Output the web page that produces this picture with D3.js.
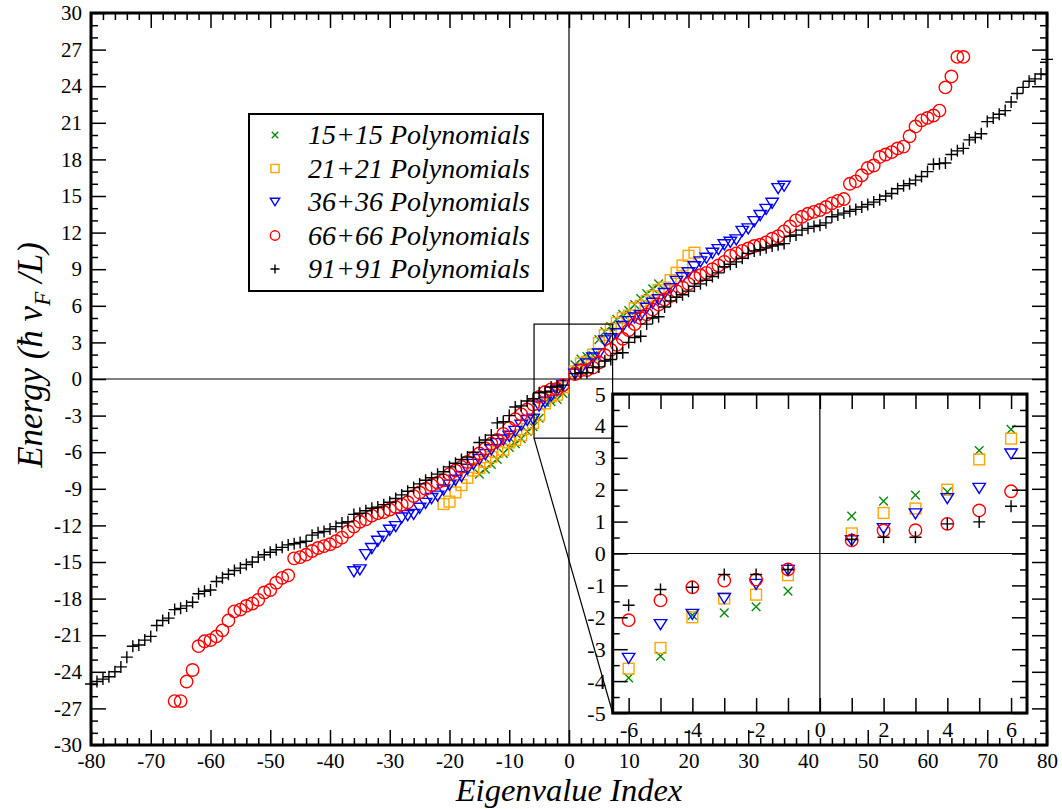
<!DOCTYPE html>
<html><head><meta charset="utf-8">
<script src="https://cdn.jsdelivr.net/npm/d3@7"></script>
<style>
body{margin:0;background:#fff}
svg{display:block}
text{font-family:"Liberation Serif","Times New Roman",serif;fill:#000}
</style>
</head><body>
<svg id="chart" width="1062" height="809"></svg>
<script>
// Energies for positive indices (n = 1, 2, ...) and negative indices (n = -1, -2, ...)
const e15Pos = [1.17,1.64,1.83,1.93,3.23,3.89,4.3,4.9,5.3,5.6,6.1,6.6,7.0,7.4,7.8];
const e15Neg = [-1.18,-1.67,-1.86,-1.93,-3.22,-3.9,-4.3,-4.9,-5.3,-5.6,-6.1,-6.6,-7.0,-7.4,-7.8];

const e21Pos = [0.63,1.27,1.41,2.0,2.95,3.6,4.1,4.6,5.0,5.2,5.8,6.0,6.4,6.8,7.3,7.5,8.1,8.7,9.3,10.1,10.35];
const e21Neg = [-0.68,-1.29,-1.41,-2.0,-2.96,-3.61,-4.1,-4.6,-5.0,-5.2,-5.8,-6.0,-6.4,-6.8,-7.3,-7.5,-8.1,-8.7,-9.3,-10.05,-10.25];

const e36Pos = [0.4,0.78,1.24,1.72,2.04,3.12,3.3,3.7,4.3,4.7,5.0,5.2,5.8,6.2,6.5,7.0,7.4,8.0,8.3,8.7,
  9.2,9.6,9.9,10.3,10.6,11.0,11.2,11.4,12.1,12.3,12.9,13.4,13.9,14.4,15.6,15.8];
const e36Neg = [-0.53,-0.97,-1.41,-1.91,-2.23,-3.29,-3.4,-3.8,-4.3,-4.7,-5.0,-5.3,-5.8,-6.2,-6.6,-7.0,-7.4,-8.0,-8.3,-8.7,
  -9.1,-9.6,-9.8,-10.2,-10.6,-11.1,-11.2,-11.4,-12.1,-12.4,-12.9,-13.3,-13.9,-14.4,-15.65,-15.8];

const e66Pos = [0.41,0.72,0.73,0.93,1.35,1.95,2.4,2.8,3.3,4.0,4.5,5.0,5.3,5.7,6.1,6.5,6.8,7.2,7.5,7.8,
  8.3,8.5,8.7,9.0,9.3,9.6,10.1,10.3,10.5,10.7,10.9,11.0,11.2,11.5,11.7,12.1,12.5,13.0,13.3,13.55,
  13.7,13.85,14.1,14.4,14.6,14.75,16.0,16.2,16.7,17.3,17.5,18.2,18.4,18.6,18.9,19.05,19.9,20.7,21.2,21.4,
  21.6,22.0,23.9,24.8,26.4,26.4];
const e66Neg = [-0.5,-0.82,-0.85,-1.06,-1.47,-2.09,-2.5,-2.9,-3.3,-4.0,-4.5,-5.0,-5.3,-5.7,-6.1,-6.5,-6.8,-7.2,-7.5,-7.8,
  -8.3,-8.5,-8.7,-9.0,-9.3,-9.6,-10.1,-10.3,-10.5,-10.7,-10.9,-11.0,-11.2,-11.5,-11.7,-12.1,-12.5,-13.0,-13.3,-13.55,
  -13.7,-13.85,-14.1,-14.4,-14.6,-14.7,-16.1,-16.3,-16.7,-17.3,-17.5,-18.1,-18.4,-18.6,-18.9,-19.05,-19.8,-20.6,-21.1,-21.4,
  -21.5,-21.9,-23.85,-24.8,-26.4,-26.4];

const e91Pos = [0.44,0.51,0.51,0.93,0.99,1.48,1.6,2.1,2.15,3.0,3.4,3.5,4.5,5.0,5.1,5.9,6.4,6.7,6.9,7.2,
  7.6,7.8,8.1,8.4,8.7,9.2,9.4,9.6,9.9,10.3,10.5,10.6,10.75,10.9,11.0,11.1,11.7,11.8,12.2,12.35,
  12.5,12.6,12.8,13.3,13.45,13.6,13.75,13.9,14.1,14.3,14.5,14.7,15.0,15.2,15.6,15.85,16.0,16.3,16.6,17.0,
  17.6,17.65,17.7,18.4,18.7,18.9,19.6,19.8,20.1,21.1,21.4,21.7,22.0,22.7,23.4,23.9,24.4,24.6,25.0,26.2];
const e91Neg = [-0.5,-0.66,-0.66,-1.06,-1.13,-1.62,-1.8,-2.2,-2.3,-3.0,-3.5,-3.6,-4.6,-5.0,-5.2,-6.0,-6.4,-6.6,-6.9,-7.2,
  -7.6,-7.8,-8.1,-8.3,-8.6,-8.9,-9.2,-9.5,-9.8,-10.1,-10.3,-10.5,-10.6,-10.8,-11.0,-11.1,-11.7,-11.8,-12.1,-12.3,
  -12.5,-12.6,-12.8,-13.3,-13.4,-13.5,-13.6,-13.8,-14.0,-14.2,-14.4,-14.6,-15.0,-15.2,-15.5,-15.7,-16.0,-16.3,-16.6,-17.3,
  -17.4,-17.6,-18.3,-18.6,-18.8,-18.9,-19.6,-19.8,-20.2,-21.1,-21.4,-21.8,-21.9,-22.8,-23.6,-24.0,-24.4,-24.6,-24.8,-25.0];

const seriesNames = ["15+15 Polynomials","21+21 Polynomials","36+36 Polynomials","66+66 Polynomials","91+91 Polynomials"];
const seriesShapes = ["x","square","triangle","circle","plus"];
const seriesColors = ["#0b8a0b","#ffa500","#0000ff","#ff0000","#000000"];
const seriesPos = [e15Pos,e21Pos,e36Pos,e66Pos,e91Pos];
const seriesNeg = [e15Neg,e21Neg,e36Neg,e66Neg,e91Neg];

// Main axis ticks
const xMajor = d3.range(-80, 81, 10);
const xMinor = d3.range(-80, 81, 2).filter(v => v % 10 !== 0);
const yMajor = d3.range(-30, 31, 3);
const yMinor = d3.range(-30, 31, 1).filter(v => v % 3 !== 0);
// Inset ticks
const ixTicks = d3.range(-6, 7, 1);
const ixLabels = [-6,-4,-2,0,2,4,6];
const iyMajor = d3.range(-5, 6, 1);
const iyMinor = d3.range(-4.5, 5, 1);

const series = seriesNames.map((name, i) => ({
  name, shape: seriesShapes[i], color: seriesColors[i],
  points: seriesNeg[i].map((e, k) => ({n: -(k + 1), e}))
    .concat(seriesPos[i].map((e, k) => ({n: k + 1, e})))
}));

const svg = d3.select("#chart");
const SERIF = "'Liberation Serif', 'Times New Roman', serif";

function drawSymbol(g, shape, color, cx, cy, s) {
  const sw = 1.4;
  if (shape === "circle") {
    g.append("circle").attr("cx", cx).attr("cy", cy).attr("r", s * 0.52)
      .attr("fill", "none").attr("stroke", color).attr("stroke-width", sw);
  } else if (shape === "square") {
    const h = s * 0.45;
    g.append("rect").attr("x", cx - h).attr("y", cy - h).attr("width", 2 * h).attr("height", 2 * h)
      .attr("fill", "none").attr("stroke", color).attr("stroke-width", sw);
  } else if (shape === "triangle") {
    const w = s * 0.52, h = s * 0.42;
    g.append("path").attr("d", `M${cx - w},${cy - h}L${cx + w},${cy - h}L${cx},${cy + h}Z`)
      .attr("fill", "none").attr("stroke", color).attr("stroke-width", sw);
  } else if (shape === "x") {
    const h = s * 0.36;
    g.append("path").attr("d", `M${cx - h},${cy - h}L${cx + h},${cy + h}M${cx - h},${cy + h}L${cx + h},${cy - h}`)
      .attr("fill", "none").attr("stroke", color).attr("stroke-width", sw);
  } else if (shape === "plus") {
    const h = s * 0.5;
    g.append("path").attr("d", `M${cx - h},${cy}L${cx + h},${cy}M${cx},${cy - h}L${cx},${cy + h}`)
      .attr("fill", "none").attr("stroke", color).attr("stroke-width", sw);
  }
}

function styleAxis(g, size) {
  g.select(".domain").remove();
  g.attr("font-family", SERIF).attr("font-size", size);
  g.selectAll(".tick line").attr("stroke", "#000").attr("stroke-width", 1.5);
  g.selectAll("text").attr("font-size", size).attr("font-family", SERIF).attr("fill", "#000");
}

function drawFrameAxes(root, x, y, opt) {
  const [x0, x1] = x.range(), [y0, y1] = y.range();
  const fmt = d => String(d);
  const b = root.append("g").attr("transform", `translate(0,${y0})`)
    .call(d3.axisBottom(x).tickValues(opt.xMajor).tickSize(-opt.major).tickPadding(opt.xPad)
      .tickFormat(d => opt.xLabels.includes(d) ? fmt(d) : ""));
  styleAxis(b, opt.font);
  const t = root.append("g").attr("transform", `translate(0,${y1})`)
    .call(d3.axisTop(x).tickValues(opt.xMajor).tickSize(-opt.major).tickFormat(""));
  styleAxis(t, opt.font);
  const l = root.append("g").attr("transform", `translate(${x0},0)`)
    .call(d3.axisLeft(y).tickValues(opt.yMajor).tickSize(-opt.major).tickPadding(opt.yPad).tickFormat(fmt));
  styleAxis(l, opt.font);
  const r = root.append("g").attr("transform", `translate(${x1},0)`)
    .call(d3.axisRight(y).tickValues(opt.yMajor).tickSize(-opt.major).tickFormat(""));
  styleAxis(r, opt.font);
  if (opt.xMinor.length) {
    [[d3.axisBottom, y0], [d3.axisTop, y1]].forEach(([ax, p]) => {
      const g = root.append("g").attr("transform", `translate(0,${p})`)
        .call(ax(x).tickValues(opt.xMinor).tickSize(-opt.minor).tickFormat(""));
      styleAxis(g, opt.font);
    });
  }
  [[d3.axisLeft, x0], [d3.axisRight, x1]].forEach(([ax, p]) => {
    const g = root.append("g").attr("transform", `translate(${p},0)`)
      .call(ax(y).tickValues(opt.yMinor).tickSize(-opt.minor).tickFormat(""));
    styleAxis(g, opt.font);
  });
  root.append("rect").attr("x", x0).attr("y", y1).attr("width", x1 - x0).attr("height", y0 - y1)
    .attr("fill", "none").attr("stroke", "#000").attr("stroke-width", 3);
}

// ---------- Main panel ----------
const x = d3.scaleLinear().domain([-80, 80]).range([91, 1047]);
const y = d3.scaleLinear().domain([-30, 30]).range([745, 13]);

const main = svg.append("g");
main.append("line").attr("x1", x(0)).attr("x2", x(0)).attr("y1", y(30)).attr("y2", y(-30))
  .attr("stroke", "#000").attr("stroke-width", 1.2);
main.append("line").attr("x1", x(-80)).attr("x2", x(80)).attr("y1", y(0)).attr("y2", y(0))
  .attr("stroke", "#000").attr("stroke-width", 1.2);

const mainPts = main.append("g");
series.forEach(s => {
  const g = mainPts.append("g");
  s.points.filter(p => p.n >= -80 && p.n <= 80)
    .forEach(p => drawSymbol(g, s.shape, s.color, x(p.n), y(p.e), 12));
});

drawFrameAxes(main, x, y, {
  xMajor, xMinor, yMajor, yMinor, xLabels: xMajor, major: 15, minor: 7, font: 21, xPad: 8, yPad: 9
});

// zoom window and connector
const zoomBox = {x0: -5.85, x1: 7.3, y0: -4.85, y1: 4.5};
main.append("rect").attr("x", x(zoomBox.x0)).attr("y", y(zoomBox.y1))
  .attr("width", x(zoomBox.x1) - x(zoomBox.x0)).attr("height", y(zoomBox.y0) - y(zoomBox.y1))
  .attr("fill", "none").attr("stroke", "#000").attr("stroke-width", 1.2);

// ---------- Inset panel ----------
const ix = d3.scaleLinear().domain([-6.5, 6.5]).range([612.7, 1027]);
const iy = d3.scaleLinear().domain([-5, 5]).range([713, 394]);

main.append("line").attr("x1", x(zoomBox.x0)).attr("y1", y(zoomBox.y0))
  .attr("x2", ix(-6.5)).attr("y2", iy(-5)).attr("stroke", "#000").attr("stroke-width", 1.2);

const inset = svg.append("g");
inset.append("rect").attr("x", ix(-6.5)).attr("y", iy(5)).attr("width", ix(6.5) - ix(-6.5))
  .attr("height", iy(-5) - iy(5)).attr("fill", "#fff");
inset.append("line").attr("x1", ix(0)).attr("x2", ix(0)).attr("y1", iy(5)).attr("y2", iy(-5))
  .attr("stroke", "#000").attr("stroke-width", 1.2);
inset.append("line").attr("x1", ix(-6.5)).attr("x2", ix(6.5)).attr("y1", iy(0)).attr("y2", iy(0))
  .attr("stroke", "#000").attr("stroke-width", 1.2);
series.forEach(s => {
  const g = inset.append("g");
  s.points.filter(p => Math.abs(p.n) <= 6)
    .forEach(p => drawSymbol(g, s.shape, s.color, ix(p.n), iy(p.e), 12));
});
drawFrameAxes(inset, ix, iy, {
  xMajor: ixTicks, xMinor: [], yMajor: iyMajor, yMinor: iyMinor, xLabels: ixLabels,
  major: 15, minor: 7, font: 22, xPad: 8, yPad: 7
});

// ---------- Legend ----------
const leg = svg.append("g");
leg.append("rect").attr("x", 249).attr("y", 114).attr("width", 294).attr("height", 177)
  .attr("fill", "#fff").attr("stroke", "#000").attr("stroke-width", 2);
series.forEach((s, i) => {
  const cy = 135 + i * 33.5;
  drawSymbol(leg, s.shape, s.color, 275, cy, 9);
  leg.append("text").attr("x", 308).attr("y", cy).attr("dy", "0.33em")
    .attr("font-family", SERIF).attr("font-size", 28).attr("font-style", "italic").text(s.name);
});

// ---------- Axis titles ----------
svg.append("text").attr("x", 569).attr("y", 801).attr("text-anchor", "middle")
  .attr("font-family", SERIF).attr("font-size", 32.5).attr("font-style", "italic").text("Eigenvalue Index");

const yt = svg.append("text").attr("transform", "translate(42,355) rotate(-90)")
  .attr("text-anchor", "middle").attr("font-family", SERIF).attr("font-size", 35).attr("font-style", "italic");
yt.append("tspan").text("Energy (ħ v");
yt.append("tspan").attr("dy", 8).attr("font-size", 23).text("F");
yt.append("tspan").attr("dy", -8).text(" /L)");
</script>
</body></html>
